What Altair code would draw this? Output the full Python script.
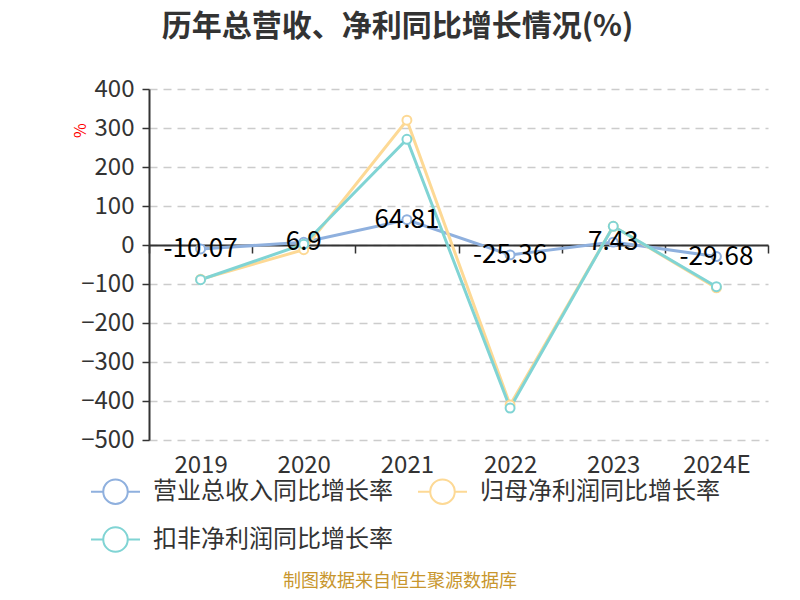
import altair as alt
import pandas as pd

years = ["2019", "2020", "2021", "2022", "2023", "2024E"]
revenue = [-10.07, 6.9, 64.81, -25.36, 7.43, -29.68]
net_profit = [-88, -12, 320, -410, 48, -110]
deducted = [-89, 2, 271, -418, 48, -107]

series_names = ["营业总收入同比增长率", "归母净利润同比增长率", "扣非净利润同比增长率"]
series_colors = ["#8fb0de", "#fdd995", "#80d4d4"]
y_ticks = [-500, -400, -300, -200, -100, 0, 100, 200, 300, 400]

rows = []
for name, vals in zip(series_names, [revenue, net_profit, deducted]):
    for yr, v in zip(years, vals):
        rows.append({"year": yr, "value": v, "series": name})
df = pd.DataFrame(rows)
rev_df = pd.DataFrame({"year": years, "value": revenue, "label": [str(v) for v in revenue]})

FONT = "Noto Sans CJK SC"
W, H = 619, 351
zero_from_bottom = H * 500 / 900

x_enc = alt.X(
    "year:N", sort=years, bandPosition=0.5,
    scale=alt.Scale(type="band", paddingInner=0, paddingOuter=0),
    axis=alt.Axis(title=None, orient="bottom", offset=-zero_from_bottom, domainColor="#333333",
                  domainWidth=2, tickColor="#333333", tickSize=8, tickWidth=1.5, tickBand="extent",
                  labelPadding=212, labelBaseline="middle", labelFontSize=24, labelColor="#333333",
                  labelAngle=0, labelFont=FONT, grid=False),
)
y_enc = alt.Y(
    "value:Q",
    scale=alt.Scale(domain=[-500, 400], nice=False),
    axis=alt.Axis(values=y_ticks, title="%", titleColor="red", titleFontSize=16, titleFontWeight="normal",
                  titleX=-61, titleY=41, titleAngle=270, titleFont=FONT,
                  domainColor="#333333", domainWidth=2, tickColor="#333333", tickSize=7, tickWidth=1.5,
                  labelFontSize=24, labelColor="#333333", labelPadding=8, labelFont=FONT,
                  gridColor="#cccccc", gridDash=[8, 6], gridWidth=1.5),
)

color_scale = alt.Scale(domain=series_names, range=series_colors)
legend_path = "M-1,0L-0.5,0M0.5,0L1,0M-0.5,0A0.5,0.5,0,1,0,0.5,0A0.5,0.5,0,1,0,-0.5,0"
legend = alt.Legend(title=None, orient="none", legendX=-59, legendY=377, columns=2, direction="horizontal",
                    symbolType=legend_path, symbolSize=2401, symbolStrokeWidth=2,
                    symbolFillColor="white", labelFontSize=24, labelFont=FONT,
                    labelColor="#333333", labelOffset=12, columnPadding=21,
                    rowPadding=6, labelLimit=400)

line_layers = []
for i, name in enumerate(series_names):
    line_layers.append(
        alt.Chart(df[df.series == name]).mark_line(strokeWidth=3).encode(
            x=x_enc, y=y_enc,
            color=alt.Color("series:N", scale=color_scale, sort=series_names,
                            legend=legend if i == 0 else None),
        )
    )

points = alt.Chart(df).mark_point(filled=True, fill="white", size=80, strokeWidth=2, opacity=1).encode(
    x=x_enc, y=y_enc,
    stroke=alt.Stroke("series:N", scale=color_scale, legend=None),
)

labels = alt.Chart(rev_df).mark_text(fontSize=26, font=FONT, color="#000000", baseline="middle").encode(
    x=x_enc, y=y_enc, text="label:N",
)

footer = alt.Chart(pd.DataFrame({"t": ["制图数据来自恒生聚源数据库"]})).mark_text(
    fontSize=18, font=FONT, color="#c8962d", baseline="middle", align="center"
).encode(x=alt.value(251), y=alt.value(493), text="t:N")

chart = alt.layer(
    *line_layers,
    points,
    labels,
    footer,
).properties(
    width=W, height=H,
    title=alt.Title("历年总营收、净利同比增长情况(%)", fontSize=30, font=FONT, fontWeight="bold",
                    color="#333333", anchor="middle", dx=-61, offset=35),
    autosize=alt.AutoSizeParams(type="none"),
    padding={"left": 141, "top": 81, "right": 24, "bottom": 152},
).configure_view(stroke=None)

chart.save("out.html", embed_options={"renderer": "svg", "actions": False})
